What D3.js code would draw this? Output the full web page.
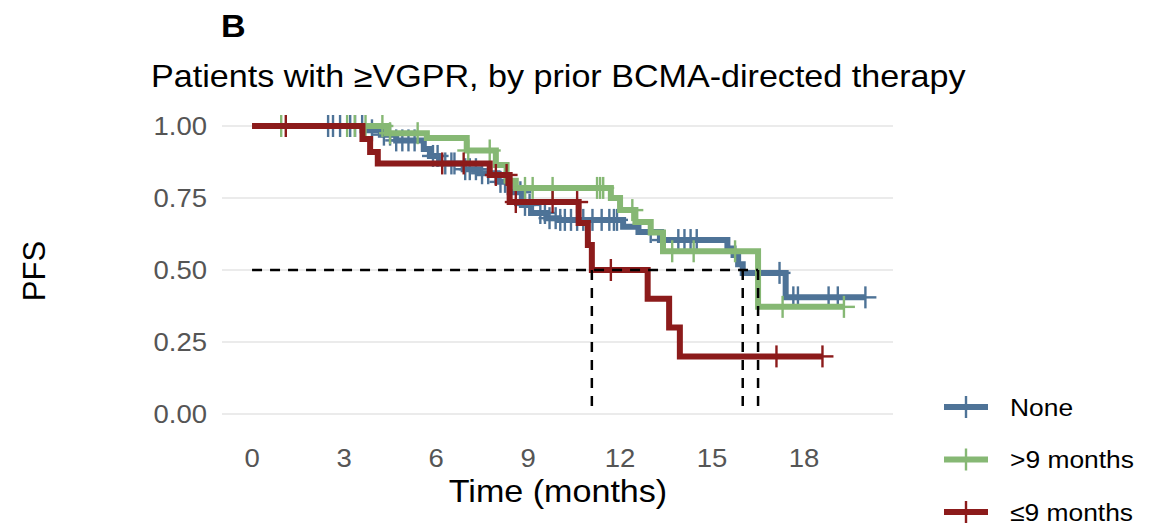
<!DOCTYPE html>
<html>
<head>
<meta charset="utf-8">
<script src="https://cdn.jsdelivr.net/npm/d3@7"></script>
<style>
  body { margin: 0; background: #fff; }
  text { font-family: "Liberation Sans", Arial, sans-serif; }
</style>
</head>
<body>
<svg id="km" width="1152" height="525"></svg>
<script>
// step points [time, survival after that time]
const noneSteps = [[0, 1], [3.6, 0.985], [4.2, 0.97], [4.7, 0.95], [5.6, 0.92], [5.8, 0.896], [6.1, 0.87],
  [6.9, 0.85], [7.4, 0.836], [8.0, 0.806], [8.4, 0.77], [8.8, 0.726], [9.1, 0.698], [9.6, 0.68], [10.0, 0.674],
  [12.1, 0.65], [12.6, 0.632], [13.3, 0.604], [15.5, 0.575], [15.7, 0.552], [15.85, 0.52], [16.0, 0.49], [17.4, 0.405]];
const gt9Steps = [[0, 1], [4.4, 0.975], [5.7, 0.958], [7.0, 0.915], [7.95, 0.865], [8.3, 0.81], [8.6, 0.785],
  [11.7, 0.75], [12.0, 0.708], [12.5, 0.667], [13.0, 0.63], [13.4, 0.565], [16.5, 0.372]];
const le9Steps = [[0, 1], [3.6, 0.955], [3.85, 0.91], [4.1, 0.87], [7.75, 0.83], [8.4, 0.736], [10.65, 0.663],
  [10.95, 0.587], [11.08, 0.5], [12.9, 0.4], [13.6, 0.3], [13.95, 0.2]];

// censored times
const noneCensor = [2.48, 2.64, 2.87, 3.2, 3.36, 3.59, 3.91, 4.3, 4.5, 4.7, 4.9, 5.1, 5.3, 5.9, 6.05, 6.3, 6.5, 6.6,
  6.95, 7.1, 7.3, 7.5, 7.7, 8.1, 8.25, 8.75, 8.9, 9.05, 9.4, 9.55, 9.7, 9.9, 10.05, 10.2, 10.4, 10.6, 10.8, 11.1,
  11.4, 11.65, 11.8, 11.9, 13.0, 13.4, 13.9, 14.1, 14.3, 14.5, 17.2, 17.65, 17.8, 18.8, 19.1, 20.0];
const gt9Censor = [0.95, 3.1, 3.35, 3.7, 4.25, 4.5, 5.4, 7.05, 7.75, 8.9, 9.15, 9.8, 11.25, 11.35, 11.45, 12.4,
  13.7, 14.4, 15.75, 17.3, 19.3];
const le9Censor = [1.1, 6.2, 6.9, 7.95, 8.3, 8.6, 9.8, 10.6, 11.7, 17.1, 18.6];

const medians = [11.08, 16.0, 16.5];
const groups = ["None", ">9 months", "≤9 months"];
const colors = ["#4E7397", "#86B874", "#8C1B1B"];
const xTicks = [0, 3, 6, 9, 12, 15, 18];
const yTicks = [0, 0.25, 0.5, 0.75, 1];

const series = [
  { name: groups[0], steps: noneSteps, censor: noneCensor, color: colors[0] },
  { name: groups[1], steps: gt9Steps, censor: gt9Censor, color: colors[1] },
  { name: groups[2], steps: le9Steps, censor: le9Censor, color: colors[2] },
];

const svg = d3.select("#km");
const sx = 1.1; // text in the reference is a bit wide

const x = d3.scaleLinear().domain([-0.98, 20.9]).range([222, 893]);
const y = d3.scaleLinear().domain([-0.05, 1.05]).range([428.4, 111.6]);

const survAt = (steps, t) => {
  let s = 1;
  steps.forEach((d) => { if (d[0] <= t) s = d[1]; });
  return s;
};

const addText = (str, px, py, size, opts = {}) => {
  const t = svg.append("text")
    .attr("transform", `translate(${px},${py}) scale(${sx},1)`)
    .attr("font-size", size)
    .attr("fill", opts.fill || "#000")
    .attr("text-anchor", opts.anchor || "start")
    .text(str);
  if (opts.bold) t.attr("font-weight", "bold");
  return t;
};

// grid
svg.append("g")
  .selectAll("line")
  .data(yTicks)
  .enter()
  .append("line")
  .attr("x1", 222)
  .attr("x2", 893)
  .attr("y1", (d) => y(d))
  .attr("y2", (d) => y(d))
  .attr("stroke", "#EBEBEB")
  .attr("stroke-width", 2);

// axis labels
yTicks.forEach((d) => addText(d3.format(".2f")(d), 207, y(d) + 9, 25, { fill: "#555", anchor: "end" }));
xTicks.forEach((d) => addText(String(d), x(d), 467, 25, { fill: "#555", anchor: "middle" }));

addText("Time (months)", 558, 502, 31, { anchor: "middle" });
svg.append("text")
  .attr("transform", "translate(45,271) rotate(-90)")
  .attr("font-size", 31)
  .attr("text-anchor", "middle")
  .text("PFS");

addText("B", 221, 37, 31, { bold: true });
addText("Patients with ≥VGPR, by prior BCMA-directed therapy", 151, 87, 31);

// curves
const line = d3.line()
  .x((d) => x(d[0]))
  .y((d) => y(d[1]))
  .curve(d3.curveStepAfter);

series.forEach((s) => {
  const tEnd = d3.max(s.censor);
  const pts = s.steps.concat([[tEnd, s.steps[s.steps.length - 1][1]]]);
  svg.append("path")
    .attr("d", line(pts))
    .attr("fill", "none")
    .attr("stroke", s.color)
    .attr("stroke-width", 6);

  const g = svg.append("g").attr("stroke", s.color).attr("stroke-width", 2.4);
  s.censor.forEach((t) => {
    const cx = x(t);
    const cy = y(survAt(s.steps, t));
    g.append("line").attr("x1", cx).attr("x2", cx).attr("y1", cy - 11).attr("y2", cy + 11);
    g.append("line").attr("x1", cx - 11).attr("x2", cx + 11).attr("y1", cy).attr("y2", cy);
  });
});

// median lines
const dash = svg.append("g")
  .attr("stroke", "#000")
  .attr("stroke-width", 2.5)
  .attr("stroke-dasharray", "10,8");
dash.append("line")
  .attr("x1", x(0)).attr("x2", x(d3.max(medians)))
  .attr("y1", y(0.5)).attr("y2", y(0.5));
dash.selectAll(".vmed")
  .data(medians)
  .enter()
  .append("line")
  .attr("class", "vmed")
  .attr("x1", (d) => x(d)).attr("x2", (d) => x(d))
  .attr("y1", y(0.5)).attr("y2", y(0));

// legend
series.forEach((s, i) => {
  const ly = 407 + i * 52.5;
  svg.append("line")
    .attr("x1", 944).attr("x2", 988).attr("y1", ly).attr("y2", ly)
    .attr("stroke", s.color).attr("stroke-width", 6);
  svg.append("line")
    .attr("x1", 966).attr("x2", 966).attr("y1", ly - 11).attr("y2", ly + 11)
    .attr("stroke", s.color).attr("stroke-width", 2.4);
  addText(s.name, 1010, ly + 8.5, 24);
});
</script>
</body>
</html>
